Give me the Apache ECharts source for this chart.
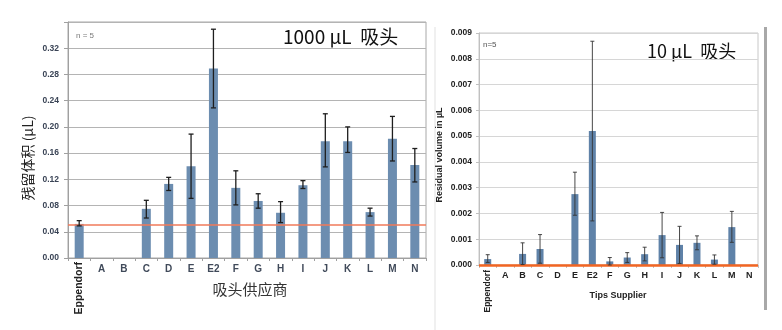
<!DOCTYPE html>
<html><head><meta charset="utf-8">
<script src="https://cdn.jsdelivr.net/npm/echarts@6/dist/echarts.min.js"></script>
<style>html,body{margin:0;padding:0;background:#fff}#c{width:782px;height:330px}</style>
</head><body><div id="c"></div>
<script>
const categories = ['Eppendorf','A','B','C','D','E','E2','F','G','H','I','J','K','L','M','N'];
// 1000 µL tips
const mean1000 = [0.052, null, null, 0.075, 0.113, 0.140, 0.289, 0.107, 0.087, 0.069, 0.111, 0.178, 0.178, 0.070, 0.182, 0.142];
const low1000  = [0.049, null, null, 0.061, 0.103, 0.091, 0.229, 0.081, 0.076, 0.054, 0.106, 0.139, 0.161, 0.064, 0.148, 0.116];
const high1000 = [0.057, null, null, 0.088, 0.123, 0.189, 0.349, 0.133, 0.098, 0.086, 0.118, 0.220, 0.200, 0.076, 0.216, 0.167];
const ref1000 = 0.053;
const yTicks1000 = [0, 0.04, 0.08, 0.12, 0.16, 0.20, 0.24, 0.28, 0.32];
// 10 µL tips
const mean10 = [0.00023, null, 0.00043, 0.00062, null, 0.00275, 0.00520, 0.00014, 0.00029, 0.00042, 0.00116, 0.00078, 0.00086, 0.00021, 0.00147, null];
const low10  = [0.00010, null, 0.00002, 0.00007, null, 0.00193, 0.00171, 0.00000, 0.00010, 0.00016, 0.00028, 0.00006, 0.00059, 0.00003, 0.00088, null];
const high10 = [0.00040, null, 0.00086, 0.00118, null, 0.00360, 0.00868, 0.00029, 0.00048, 0.00069, 0.00204, 0.00150, 0.00113, 0.00039, 0.00208, null];
const ref10 = 0.00026;
const yTicks10 = [0, 0.001, 0.002, 0.003, 0.004, 0.005, 0.006, 0.007, 0.008, 0.009];

const FONT = '"Liberation Sans", Arial, sans-serif';
const CJK = '"Noto Sans CJK SC", "Liberation Sans", sans-serif';

function errData(lo, hi) {
  const out = [];
  lo.forEach((v, i) => { if (v != null && hi[i] != null) out.push([i, v, hi[i]]); });
  return out;
}
function errRender(cap, color, width) {
  return function (params, api) {
    const x = api.value(0);
    const a = api.coord([x, api.value(1)]);
    const b = api.coord([x, api.value(2)]);
    const st = { stroke: color, lineWidth: width };
    return { type: 'group', children: [
      { type: 'line', shape: { x1: a[0], y1: a[1], x2: b[0], y2: b[1] }, style: st },
      { type: 'line', shape: { x1: a[0]-cap, y1: a[1], x2: a[0]+cap, y2: a[1] }, style: st },
      { type: 'line', shape: { x1: b[0]-cap, y1: b[1], x2: b[0]+cap, y2: b[1] }, style: st }
    ]};
  };
}

const chart = echarts.init(document.getElementById('c'), null, { renderer: 'canvas' });
const option = {
  animation: false,
  backgroundColor: '#fff',
  grid: [
    { left: 68, top: 22, width: 358, height: 236, show: true, borderColor: '#a8a8a8', borderWidth: 1, backgroundColor: 'transparent' },
    { left: 479, top: 33, width: 279, height: 232, show: true, borderColor: '#c8c8c8', borderWidth: 1, backgroundColor: 'transparent' }
  ],
  xAxis: [
    { type: 'category', gridIndex: 0, data: categories,
      axisLine: { lineStyle: { color: '#a0a0a0' } },
      axisTick: { show: true, length: 3, lineStyle: { color: '#a0a0a0' } },
      axisLabel: { margin: 6, fontFamily: FONT, fontSize: 10, fontWeight: 'bold', color: '#404a5a', interval: 0,
        formatter: v => v === 'Eppendorf' ? '' : v } },
    { type: 'category', gridIndex: 0, data: categories, position: 'bottom',
      axisLine: { show: false }, axisTick: { show: false },
      axisLabel: { margin: 4, rotate: 90, fontFamily: FONT, fontSize: 10.5, fontWeight: 'bold', color: '#222', interval: 0,
        formatter: v => v === 'Eppendorf' ? v : '' } },
    { type: 'category', gridIndex: 1, data: categories,
      axisLine: { lineStyle: { color: '#c0c0c0' } },
      axisTick: { show: true, length: 3, lineStyle: { color: '#c0c0c0' } },
      axisLabel: { margin: 6, fontFamily: FONT, fontSize: 9, fontWeight: 'bold', color: '#222', interval: 0,
        formatter: v => v === 'Eppendorf' ? '' : v } },
    { type: 'category', gridIndex: 1, data: categories, position: 'bottom',
      axisLine: { show: false }, axisTick: { show: false },
      axisLabel: { margin: 5, rotate: 90, fontFamily: FONT, fontSize: 8.5, fontWeight: 'bold', color: '#222', interval: 0,
        formatter: v => v === 'Eppendorf' ? v : '' } }
  ],
  yAxis: [
    { type: 'value', gridIndex: 0, min: 0, max: 0.36, interval: 0.04,
      axisLine: { show: true, lineStyle: { color: '#a0a0a0' } },
      axisTick: { show: true, length: 4, lineStyle: { color: '#a0a0a0' } },
      splitLine: { show: true, lineStyle: { color: '#b4b4b4', width: 1 } },
      axisLabel: { margin: 9, fontFamily: FONT, fontSize: 8.5, fontWeight: 'bold', color: '#3a4456',
        formatter: v => yTicks1000.some(t => Math.abs(t - v) < 1e-9) ? v.toFixed(2) : '' } },
    { type: 'value', gridIndex: 1, min: 0, max: 0.009, interval: 0.001,
      axisLine: { show: true, lineStyle: { color: '#c0c0c0' } },
      axisTick: { show: true, length: 3, lineStyle: { color: '#c0c0c0' } },
      splitLine: { show: true, lineStyle: { color: '#d6d6d6', width: 1.2 } },
      axisLabel: { margin: 7, fontFamily: FONT, fontSize: 8.5, fontWeight: 'bold', color: '#222',
        formatter: v => yTicks10.some(t => Math.abs(t - v) < 1e-12) ? v.toFixed(3) : '' } }
  ],
  series: [
    { type: 'bar', xAxisIndex: 0, yAxisIndex: 0, data: mean1000, barWidth: 9,
      itemStyle: { color: '#6c8db0' }, silent: true,
      markLine: { silent: true, symbol: 'none', label: { show: false },
        lineStyle: { color: '#f07a5a', width: 1.5, type: 'solid' }, data: [{ yAxis: ref1000 }] } },
    { type: 'custom', xAxisIndex: 0, yAxisIndex: 0, data: errData(low1000, high1000),
      renderItem: errRender(2.5, '#1e1e1e', 1.3), silent: true, z: 5 },
    { type: 'bar', xAxisIndex: 2, yAxisIndex: 1, data: mean10, barWidth: 7,
      itemStyle: { color: '#5f82a8' }, silent: true,
      markLine: { silent: true, symbol: 'none', label: { show: false },
        lineStyle: { color: '#f26522', width: 2.5, type: 'solid' }, data: [{ yAxis: ref10 }] } },
    { type: 'custom', xAxisIndex: 2, yAxisIndex: 1, data: errData(low10, high10),
      renderItem: errRender(2, '#333', 0.9), silent: true, z: 5 }
  ],
  graphic: [
    { type: 'rect', shape: { x: 434.5, y: 27, width: 1, height: 303 }, style: { fill: '#e2e2e2' }, silent: true },
    { type: 'rect', shape: { x: 764, y: 27, width: 3, height: 283 }, style: { fill: '#a8a8a8' }, silent: true },
    { type: 'text', x: 76, y: 36, style: { text: 'n = 5', font: '8px ' + FONT, fill: '#7a7a7a', textVerticalAlign: 'middle' } },
    { type: 'text', x: 283, y: 37, style: { text: '1000 µL  吸头', font: '19px ' + CJK, fill: '#111', textVerticalAlign: 'middle' } },
    { type: 'text', x: 28, y: 158, rotation: Math.PI / 2, style: { text: '残留体积 (µL)', font: '14px ' + CJK, fill: '#222', textAlign: 'center', textVerticalAlign: 'middle' } },
    { type: 'text', x: 250, y: 289, style: { text: '吸头供应商', font: '15px ' + CJK, fill: '#333', textAlign: 'center', textVerticalAlign: 'middle' } },
    { type: 'text', x: 483, y: 45, style: { text: 'n=5', font: '8px ' + FONT, fill: '#555', textVerticalAlign: 'middle' } },
    { type: 'text', x: 647, y: 51, style: { text: '10 µL  吸头', font: '18px ' + CJK, fill: '#111', textVerticalAlign: 'middle' } },
    { type: 'text', x: 440, y: 155, rotation: Math.PI / 2, style: { text: 'Residual volume in µL', font: 'bold 9px ' + FONT, fill: '#222', textAlign: 'center', textVerticalAlign: 'middle' } },
    { type: 'text', x: 618, y: 296, style: { text: 'Tips Supplier', font: 'bold 9px ' + FONT, fill: '#222', textAlign: 'center', textVerticalAlign: 'middle' } }
  ]
};
chart.setOption(option);
</script>
</body></html>
